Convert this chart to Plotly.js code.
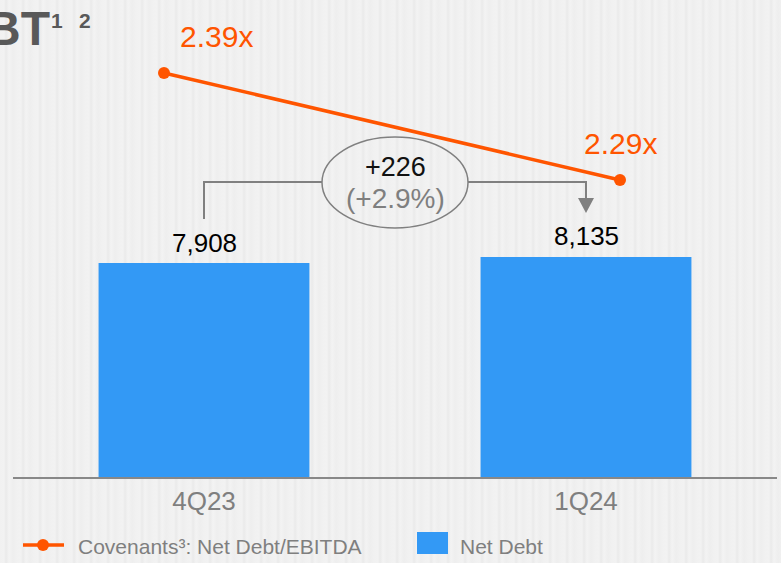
<!DOCTYPE html>
<html><head><meta charset="utf-8">
<script src="https://cdn.plot.ly/plotly-3.0.1.min.js"></script>
<style>
html,body{margin:0;padding:0;width:781px;height:563px;overflow:hidden;
background:repeating-linear-gradient(90deg,#f1f1f1 0px,#f2f2f2 4px,#eaeaea 6px,#f3f3f3 9px,#eeeeee 13px,#f1f1f1 17px);}
#chart{width:781px;height:563px;}
</style></head><body><div id="chart"></div>
<script>
// ---- data ----
const categories = ['4Q23', '1Q24'];
const netDebt = [7908, 8135];
const netDebtLabels = ['7,908', '8,135'];
const covenants = [2.39, 2.29];
const covenantLabels = ['2.39x', '2.29x'];
const changeAbs = '+226';
const changePct = '(+2.9%)';
const seriesNames = ['Covenants³: Net Debt/EBITDA', 'Net Debt'];
const titleText = 'BT';
const titleNotes = ['1', '2'];

// ---- styles ----
const ORANGE = '#FF5500';
const BLUE = '#3399F5';
const GREY = '#7f7f7f';
const FONT = 'Liberation Sans, Arial, sans-serif';

const W = 781, H = 563, L = 13, R = 4, T = 0, B = 86;
const pw = W - L - R, ph = H - T - B;
const X = p => (p - L) / pw;           // pixel -> paper x
const Y = p => (H - B - p) / ph;       // pixel -> paper y

const bars = {
  type: 'bar', name: seriesNames[1], x: categories, y: netDebt,
  marker: {color: BLUE}, xaxis: 'x', yaxis: 'y', showlegend: false, hoverinfo: 'skip'
};
const line = {
  type: 'scatter', mode: 'lines+markers', name: seriesNames[0],
  x: categories, y: covenants, xaxis: 'x2', yaxis: 'y2',
  line: {color: ORANGE, width: 3.5}, marker: {color: ORANGE, size: 12},
  showlegend: false, hoverinfo: 'skip', cliponaxis: false
};

const annotations = [];
// bar value labels
categories.forEach((c, i) => annotations.push({
  xref: 'x', yref: 'y', x: c, y: netDebt[i], text: netDebtLabels[i],
  showarrow: false, yanchor: 'middle', yshift: 20.5,
  font: {family: FONT, size: 26, color: '#000'}
}));
// covenant labels
const labShift = [[53, 36], [0, 36]];
categories.forEach((c, i) => annotations.push({
  xref: 'x2', yref: 'y2', x: c, y: covenants[i], text: covenantLabels[i],
  showarrow: false, xanchor: 'center', yanchor: 'middle',
  xshift: labShift[i][0], yshift: labShift[i][1],
  font: {family: FONT, size: 30, color: ORANGE}
}));
// change bubble text
annotations.push({xref: 'paper', yref: 'paper', x: X(395), y: Y(167), text: changeAbs,
  showarrow: false, xanchor: 'center', yanchor: 'middle',
  font: {family: FONT, size: 27, color: '#111'}});
annotations.push({xref: 'paper', yref: 'paper', x: X(395), y: Y(198), text: changePct,
  showarrow: false, xanchor: 'center', yanchor: 'middle',
  font: {family: FONT, size: 28, color: GREY}});
// title fragment
annotations.push({xref: 'paper', yref: 'paper', x: X(51), y: Y(29), text: '<b>' + titleText + '</b>',
  showarrow: false, xanchor: 'right', yanchor: 'middle', borderpad: 0,
  font: {family: FONT, size: 48, color: '#595959'}});
annotations.push({xref: 'paper', yref: 'paper', x: X(57), y: Y(21), text: '<b>' + titleNotes[0] + '</b>',
  showarrow: false, xanchor: 'center', yanchor: 'middle', borderpad: 0,
  font: {family: FONT, size: 21, color: '#595959'}});
annotations.push({xref: 'paper', yref: 'paper', x: X(85), y: Y(21), text: '<b>' + titleNotes[1] + '</b>',
  showarrow: false, xanchor: 'center', yanchor: 'middle', borderpad: 0,
  font: {family: FONT, size: 21, color: '#595959'}});
// legend texts
annotations.push({xref: 'paper', yref: 'paper', x: X(76), y: Y(546), text: seriesNames[0],
  showarrow: false, xanchor: 'left', yanchor: 'middle',
  font: {family: FONT, size: 21, color: GREY}});
annotations.push({xref: 'paper', yref: 'paper', x: X(458), y: Y(546), text: seriesNames[1],
  showarrow: false, xanchor: 'left', yanchor: 'middle',
  font: {family: FONT, size: 21, color: GREY}});

const gl = {color: '#808080', width: 2};
const shapes = [
  // bracket
  {type: 'line', xref: 'paper', yref: 'paper', x0: X(204), y0: Y(219), x1: X(204), y1: Y(182), line: gl},
  {type: 'line', xref: 'paper', yref: 'paper', x0: X(203), y0: Y(182), x1: X(322), y1: Y(182), line: gl},
  {type: 'line', xref: 'paper', yref: 'paper', x0: X(468), y0: Y(182), x1: X(587), y1: Y(182), line: gl},
  {type: 'line', xref: 'paper', yref: 'paper', x0: X(586), y0: Y(181), x1: X(586), y1: Y(199), line: gl},
  {type: 'path', xref: 'paper', yref: 'paper',
   path: `M${X(578)},${Y(198)} L${X(594)},${Y(198)} L${X(586)},${Y(213)} Z`,
   fillcolor: '#808080', line: {width: 0}},
  // bubble
  {type: 'circle', xref: 'paper', yref: 'paper', x0: X(322), x1: X(468), y0: Y(228), y1: Y(137),
   line: {color: '#808080', width: 1.5}},
  // legend symbols
  {type: 'line', xref: 'paper', yref: 'paper', x0: X(23), x1: X(64), y0: Y(545), y1: Y(545),
   line: {color: ORANGE, width: 3.5}},
  {type: 'circle', xref: 'paper', yref: 'paper', x0: X(37), x1: X(49), y0: Y(551), y1: Y(539),
   fillcolor: ORANGE, line: {width: 0}},
  {type: 'rect', xref: 'paper', yref: 'paper', x0: X(417), x1: X(448), y0: Y(554), y1: Y(532),
   fillcolor: BLUE, line: {width: 0}}
];

const layout = {
  width: W, height: H,
  margin: {l: L, r: R, t: T, b: B, pad: 0},
  paper_bgcolor: 'rgba(0,0,0,0)', plot_bgcolor: 'rgba(0,0,0,0)',
  font: {family: FONT},
  showlegend: false,
  bargap: 0.448,
  xaxis: {type: 'category', range: [-0.5, 1.5], showline: true, linecolor: '#888888', linewidth: 2,
    ticks: '', showgrid: false, zeroline: false, fixedrange: true,
    tickfont: {family: FONT, size: 26, color: GREY}},
  yaxis: {range: [0, 17634], visible: false, fixedrange: true},
  xaxis2: {type: 'category', overlaying: 'x', range: [-0.3311, 1.3443], visible: false, fixedrange: true},
  yaxis2: {overlaying: 'y', range: [2.0124, 2.4582], visible: false, fixedrange: true},
  annotations: annotations,
  shapes: shapes
};

Plotly.newPlot('chart', [bars, line], layout, {displayModeBar: false, staticPlot: true});
</script></body></html>
